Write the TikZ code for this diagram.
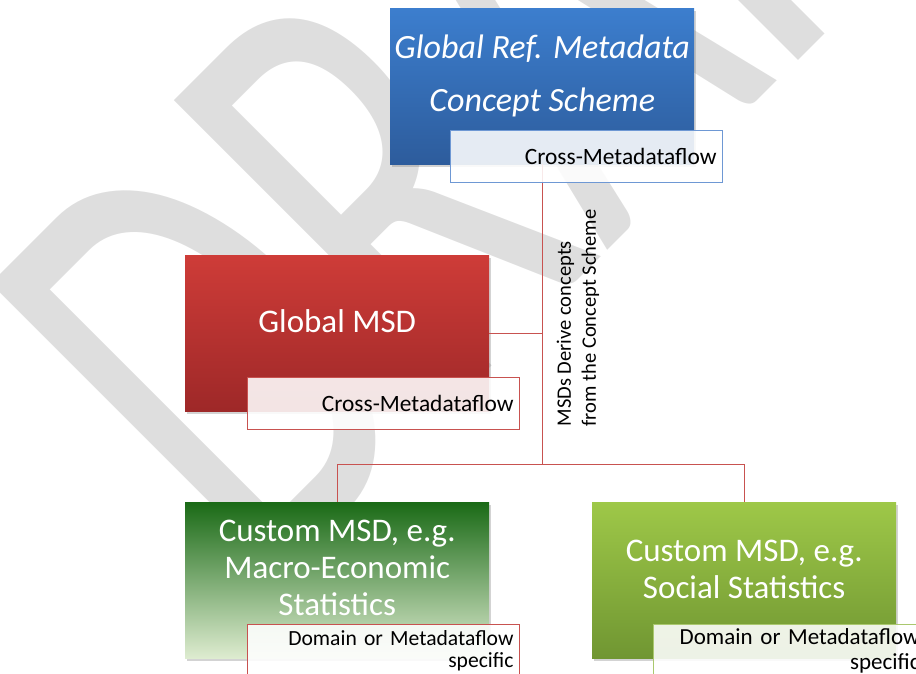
\documentclass[tikz,border=0pt]{standalone}
\usepackage{fontspec}
\setmainfont{Carlito}
\usetikzlibrary{shadows}
\definecolor{wmgray}{RGB}{222,222,222}
\definecolor{schemetop}{RGB}{60,126,206}
\definecolor{schemebot}{RGB}{45,92,156}
\definecolor{gmsdtop}{RGB}{206,60,56}
\definecolor{gmsdbot}{RGB}{158,40,40}
\definecolor{macrotop}{RGB}{26,106,22}
\definecolor{macrobot}{RGB}{222,236,208}
\definecolor{socialtop}{RGB}{158,200,72}
\definecolor{socialbot}{RGB}{112,150,50}
\definecolor{tagblue}{RGB}{110,152,212}
\definecolor{tagred}{RGB}{200,82,80}
\definecolor{taggreen}{RGB}{170,200,110}
\definecolor{linkred}{RGB}{200,82,80}
\begin{document}
\begin{tikzpicture}[x=1pt,y=1pt,
    mainbox/.style={anchor=north west,inner sep=0pt,minimum width=304pt,minimum height=156pt,
      drop shadow={shadow xshift=2pt,shadow yshift=-3pt,opacity=0.35}},
    boxtext/.style={text=white,align=center,font=\fontsize{33}{37}\selectfont},
    tagbox/.style={anchor=north west,draw,line width=1pt,fill=white,fill opacity=0.88,text opacity=1,
      minimum height=52pt,text width=260pt,inner xsep=6pt,align=right,font=\fontsize{23.4}{25}\selectfont},
    link/.style={draw=linkred,line width=1pt},
    wmark/.style={anchor=base west,inner sep=0pt,rotate=45,yscale=1.53,transform shape,
      text=wmgray,font=\fontsize{420}{420}\selectfont}]
        \useasboundingbox (0,0) rectangle (916,-673);
        %% Watermark
        \node[wmark] (draft) at (262,-596) {DRAFT};
        %% Concept scheme
        \node[mainbox,top color=schemetop,bottom color=schemebot] (scheme) at (390,-8) {};
        %% Global MSD
        \node[mainbox,top color=gmsdtop,bottom color=gmsdbot] (gmsd) at (185,-255) {};
        %% Custom MSDs
        \node[mainbox,top color=macrotop,bottom color=macrobot] (macro) at (185,-502) {};
        \node[mainbox,top color=socialtop,bottom color=socialbot] (social) at (592,-502) {};
        %% Links
        \coordinate (hub) at ([yshift=-300]scheme.south);
        \draw[link] (scheme.south) -- (hub);
        \draw[link] (gmsd.east) -- (gmsd.east -| hub);
        \draw[link] (hub) -| (macro.north);
        \draw[link] (hub) -| (social.north);
        \node[rotate=90,align=left,inner sep=0pt,font=\fontsize{20.5}{25}\selectfont] (derive) at (578,-318)
            {MSDs Derive concepts\\from the Concept Scheme};
        %% Box texts
        \node[boxtext,font=\itshape\fontsize{34}{53}\selectfont] (schemetxt) at ([yshift=10]scheme.center)
            {Global Ref. Metadata\\Concept Scheme};
        \node[boxtext] (gmsdtxt) at ([yshift=12]gmsd.center) {Global MSD};
        \node[boxtext] (macrotxt) at ([yshift=12]macro.center) {Custom MSD, e.g.\\Macro-Economic\\Statistics};
        \node[boxtext] (socialtxt) at ([yshift=10.5]social.center) {Custom MSD, e.g.\\Social Statistics};
        %% Tags
        \node[tagbox,draw=tagblue] (schemetag) at (450,-130) {Cross-Metadataflow};
        \node[tagbox,draw=tagred] (gmsdtag) at (247,-377) {Cross-Metadataflow};
        \node[tagbox,draw=tagred,font=\fontsize{21.6}{22}\selectfont] (macrotag) at (247,-624)
            {Domain or Metadataflow\\specific};
        \node[tagbox,draw=taggreen,font=\fontsize{23}{25}\selectfont] (socialtag) at (653,-624)
            {Domain or Metadataflow\\specific};
    \end{tikzpicture}
\end{document}
